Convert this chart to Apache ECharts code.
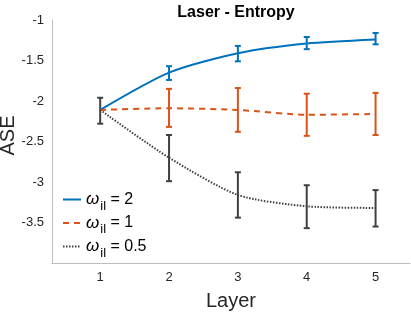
<!DOCTYPE html>
<html><head><meta charset="utf-8">
<script src="https://cdn.jsdelivr.net/npm/echarts@6/dist/echarts.min.js"></script>
<style>html,body{margin:0;padding:0;background:#fff}#c{width:411px;height:312px}</style>
</head><body><div id="c"></div>
<script>
const layers = [1, 2, 3, 4, 5];
const seriesNames = ['2', '1', '0.5'];
const mean2 = [-2.11, -1.65, -1.41, -1.29, -1.24];
const low2 = [-2.11, -1.74, -1.51, -1.36, -1.30];
const high2 = [-2.11, -1.57, -1.32, -1.21, -1.16];
const mean1 = [-2.11, -2.09, -2.11, -2.17, -2.16];
const low1 = [-2.11, -2.32, -2.38, -2.43, -2.42];
const high1 = [-2.11, -1.85, -1.84, -1.91, -1.90];
const mean05 = [-2.11, -2.70, -3.16, -3.30, -3.32];
const low05 = [-2.28, -2.99, -3.44, -3.57, -3.55];
const high05 = [-1.96, -2.42, -2.88, -3.04, -3.10];
const yTicks = [-1, -1.5, -2, -2.5, -3, -3.5];
const colors = ['#0072BD', '#D95319', '#404040'];
const font = 'Liberation Sans, Arial, Helvetica, sans-serif';

function pts(m){ return layers.map((x,i)=>[x, m[i]]); }
function errData(lo, hi, skipFirst){
  return layers.map((x,i)=>[x, lo[i], hi[i]]).filter((d,i)=>!(skipFirst && i===0));
}
function errSeries(lo, hi, color, skipFirst){
  return {
    type: 'custom', silent: true,
    data: errData(lo, hi, skipFirst),
    encode: {x: 0, y: [1, 2]},
    renderItem: function(params, api){
      const x = api.value(0);
      const a = api.coord([x, api.value(1)]);
      const b = api.coord([x, api.value(2)]);
      const w = 3;
      const st = {stroke: color, lineWidth: 2};
      return {type: 'group', children: [
        {type: 'line', shape: {x1: a[0], y1: a[1], x2: b[0], y2: b[1]}, style: st},
        {type: 'line', shape: {x1: a[0]-w, y1: a[1], x2: a[0]+w, y2: a[1]}, style: st},
        {type: 'line', shape: {x1: b[0]-w, y1: b[1], x2: b[0]+w, y2: b[1]}, style: st}
      ]};
    }
  };
}
const chart = echarts.init(document.getElementById('c'));
chart.setOption({
  animation: false,
  textStyle: {fontFamily: font},
  title: {text: 'Laser - Entropy', left: 231, textAlign: 'center', top: 0,
    textStyle: {fontSize: 16, fontWeight: 'bold', color: '#000', fontFamily: font}},
  grid: {left: 52, right: 1, top: 20, bottom: 49, containLabel: false, outerBoundsMode: 'none'},
  legend: {
    data: seriesNames, orient: 'vertical', left: 57, top: 186, itemGap: 2,
    itemWidth: 18, itemHeight: 10,
    itemStyle: {opacity: 0},
    formatter: n => '{w|ω}{s|il}{t| = ' + n + '}',
    textStyle: {
      fontFamily: font, color: '#000', fontSize: 16,
      rich: {
        w: {fontStyle: 'italic', fontSize: 17, fontFamily: font, color: '#000'},
        s: {fontSize: 13, fontFamily: font, color: '#000', padding: [13, 0, 0, 1]},
        t: {fontSize: 16, fontFamily: font, color: '#000'}
      }
    }
  },
  xAxis: {
    type: 'value', min: 0.3, max: 5.5,
    name: 'Layer', nameLocation: 'middle', nameGap: 28,
    nameTextStyle: {fontSize: 20, color: '#262626', fontFamily: font},
    axisLine: {show: true, lineStyle: {color: '#bdbdbd', width: 1}},
    axisTick: {show: false},
    splitLine: {show: false},
    axisLabel: {customValues: layers, fontSize: 13, color: '#262626', margin: 8}
  },
  yAxis: {
    type: 'value', min: -4, max: -1, interval: 0.5,
    name: 'ASE', nameLocation: 'middle', nameGap: 34, nameRotate: 90, nameMoveOverlap: false,
    nameTextStyle: {fontSize: 20, color: '#262626', fontFamily: font, padding: [0, 0, 0, 12]},
    axisLine: {show: true, lineStyle: {color: '#bdbdbd', width: 1}},
    axisTick: {show: false},
    splitLine: {show: false},
    axisLabel: {customValues: yTicks, fontSize: 13, color: '#262626', margin: 8}
  },
  series: [
    {name: '2', type: 'line', data: pts(mean2), smooth: 0.25, symbol: 'none',
      lineStyle: {color: colors[0], width: 2}, itemStyle: {color: colors[0]}},
    errSeries(low2, high2, colors[0], true),
    {name: '1', type: 'line', data: pts(mean1), smooth: 0.25, symbol: 'none',
      lineStyle: {color: colors[1], width: 2, type: [6, 5]}, itemStyle: {color: colors[1]}},
    errSeries(low1, high1, colors[1], true),
    {name: '0.5', type: 'line', data: pts(mean05), smooth: 0.25, symbol: 'none',
      lineStyle: {color: colors[2], width: 2, type: [1.5, 1.5]}, itemStyle: {color: colors[2]}},
    errSeries(low05, high05, colors[2], false)
  ]
});
</script></body></html>
